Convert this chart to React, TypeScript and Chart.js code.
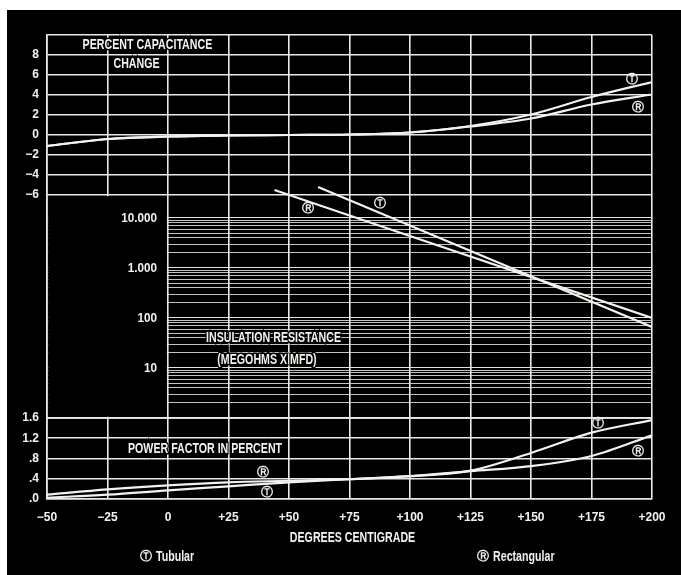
import React, { useEffect, useRef } from 'react';
import { Chart, registerables } from 'chart.js';
Chart.register(...registerables);

// ---- data ----
const temps = [-50, -25, 0, 25, 50, 75, 100, 125, 150, 175, 200];
const capTubular = [-1.1, -0.4, -0.15, -0.05, 0, 0.05, 0.25, 0.9, 2.05, 3.8, 5.3];
const capRect = [-1.1, -0.4, -0.15, -0.05, 0, 0.05, 0.25, 0.85, 1.65, 3.05, 4.05];

const irTempsTubular = [62, 200];
const irTubular = [41700, 66];
const irTempsRect = [44, 200];
const irRect = [36300, 100];

const pfTubular = [0.025, 0.085, 0.17, 0.25, 0.33, 0.39, 0.45, 0.56, 0.91, 1.31, 1.56];
const pfRect = [0.085, 0.19, 0.27, 0.33, 0.36, 0.39, 0.45, 0.55, 0.65, 0.85, 1.26];

const pfTickLabels = ['.0', '.4', '.8', '1.2', '1.6'];
const irLabelValues = [10000, 1000, 100, 10];
const irLabels = ['10.000', '1.000', '100', '10'];
const irDecades = [1, 10, 100, 1000];
const irSignificands = [1, 2, 3, 4, 5, 6, 7, 8, 9];
const irTop = 10000;

const legendSymbols = ['\u24C9', '\u24C7'];
const legendNames = ['Tubular', 'Rectangular'];
const xTitle = 'DEGREES CENTIGRADE';

const FONT = '"Liberation Sans", Arial, sans-serif';
const SYM_FONT = '"DejaVu Sans", sans-serif';
const WHITE = '#f2f2ee';
const GRID = '#e9e9e6';
const SQUEEZE = 0.76;

function fmtTemp(v: number) {
  if (v > 0) return '+' + v;
  if (v < 0) return '\u2212' + -v;
  return '0';
}

function condText(ctx: CanvasRenderingContext2D, t: string, x: number, y: number, sx: number, stroke = false) {
  ctx.save();
  ctx.translate(x, y);
  ctx.scale(sx, 1);
  if (stroke) ctx.strokeText(t, 0, 0);
  ctx.fillText(t, 0, 0);
  ctx.restore();
}

const overlay = {
  id: 'overlay',
  beforeDatasetsDraw(chart: any) {
    const { ctx, scales } = chart;
    const x = scales.x, yMid = scales.yMid, yTop = scales.yTop, yBot = scales.yBot;
    ctx.save();
    // blank area left of 0 deg in the resistance panel
    const x0 = x.getPixelForValue(-50) + 1.2;
    const x1 = x.getPixelForValue(0) - 1.2;
    ctx.fillStyle = '#000';
    ctx.fillRect(x0, yMid.top + 1.2, x1 - x0, yMid.bottom - yMid.top - 2.4);

    ctx.fillStyle = WHITE;
    ctx.textBaseline = 'middle';
    ctx.textAlign = 'right';
    ctx.font = `bold 13px ${FONT}`;
    irLabelValues.forEach((v, i) => {
      condText(ctx, irLabels[i], x.getPixelForValue(0) - 11, yMid.getPixelForValue(v), 0.9);
    });

    // panel titles
    const titles: [string, number, any, number][] = [
      ['PERCENT CAPACITANCE', -8.5, yTop, 9.0],
      ['CHANGE', -13, yTop, 7.1],
      ['INSULATION RESISTANCE', 43.6, yMid, 40],
      ['(MEGOHMS X MFD)', 40.9, yMid, 14.5],
      ['POWER FACTOR IN PERCENT', 15.3, yBot, 0.99],
    ];
    ctx.textAlign = 'center';
    ctx.font = `bold 14px ${FONT}`;
    ctx.lineWidth = 3;
    ctx.strokeStyle = '#000';
    titles.forEach(([t, tx, sc, ty]) => {
      condText(ctx, t, x.getPixelForValue(tx), sc.getPixelForValue(ty), SQUEEZE, true);
    });
    ctx.restore();
  },
  afterDatasetsDraw(chart: any) {
    const { ctx, scales } = chart;
    const x = scales.x, yMid = scales.yMid, yTop = scales.yTop, yBot = scales.yBot;
    ctx.save();
    ctx.fillStyle = WHITE;
    ctx.textAlign = 'center';
    ctx.textBaseline = 'middle';
    ctx.font = `bold 12px ${SYM_FONT}`;
    const marks: [string, number, any, number][] = [
      ['\u24C9', 191.7, yTop, 5.5],
      ['\u24C7', 194.2, yTop, 2.7],
      ['\u24C7', 57.9, yMid, 15100],
      ['\u24C9', 87.6, yMid, 19000],
      ['\u24C7', 39.3, yBot, 0.51],
      ['\u24C9', 40.9, yBot, 0.12],
      ['\u24C9', 177.7, yBot, 1.48],
      ['\u24C7', 194.2, yBot, 0.93],
    ];
    marks.forEach(([t, tx, sc, ty]) => {
      ctx.fillText(t, x.getPixelForValue(tx), sc.getPixelForValue(ty));
    });

    // x axis title
    ctx.font = `bold 14px ${FONT}`;
    condText(ctx, xTitle, (x.left + x.right) / 2 + 3, x.top + 39, SQUEEZE);

    // legend
    const ly = chart.height - 18;
    const lx = [x.getPixelForValue(-11.6), x.getPixelForValue(127.7)];
    legendNames.forEach((name, i) => {
      ctx.textAlign = 'left';
      ctx.font = `bold 12px ${SYM_FONT}`;
      ctx.fillText(legendSymbols[i], lx[i], ly);
      ctx.font = `bold 14px ${FONT}`;
      condText(ctx, name, lx[i] + 16, ly, SQUEEZE);
    });
    ctx.restore();
  },
};

export default function App() {
  const ref = useRef<HTMLCanvasElement>(null);
  useEffect(() => {
    const canvas = ref.current!;
    const line = (data: any[], axis: string, clip?: any) => ({
      data,
      yAxisID: axis,
      xAxisID: 'x',
      borderColor: WHITE,
      borderWidth: 2.2,
      pointRadius: 0,
      fill: false,
      cubicInterpolationMode: 'monotone' as const,
      ...(clip ? { clip } : {}),
    });
    const midClip = { left: 0, top: 14, right: 0, bottom: 0 };
    const tickFont = { family: FONT, size: 12, weight: 'bold' };
    const chart = new Chart(canvas, {
      type: 'line',
      data: {
        datasets: [
          line(temps.map((t, i) => ({ x: t, y: capTubular[i] })), 'yTop'),
          line(temps.map((t, i) => ({ x: t, y: capRect[i] })), 'yTop'),
          line(irTempsTubular.map((t, i) => ({ x: t, y: irTubular[i] })), 'yMid', midClip),
          line(irTempsRect.map((t, i) => ({ x: t, y: irRect[i] })), 'yMid', midClip),
          line(temps.map((t, i) => ({ x: t, y: pfTubular[i] })), 'yBot'),
          line(temps.map((t, i) => ({ x: t, y: pfRect[i] })), 'yBot'),
        ],
      },
      options: {
        responsive: false,
        animation: false,
        layout: { padding: { left: 7, top: 25, right: 29, bottom: 0 } },
        plugins: { legend: { display: false }, tooltip: { enabled: false } },
        scales: {
          x: {
            type: 'linear',
            position: 'bottom',
            min: -50,
            max: 200,
            ticks: {
              stepSize: 25,
              color: WHITE,
              padding: 11,
              autoSkip: false,
              maxRotation: 0,
              font: tickFont,
              callback: (v: any) => fmtTemp(Number(v)),
            },
            grid: { color: GRID, lineWidth: 1.6, drawTicks: false },
            border: { display: true, color: GRID, width: 1.6 },
            afterFit: (s: any) => { s.height = 76; },
          },
          yTop: {
            type: 'linear',
            position: 'left',
            stack: 'panels',
            stackWeight: 160,
            weight: 3,
            min: -6,
            max: 10,
            ticks: {
              stepSize: 2,
              color: WHITE,
              padding: 8,
              autoSkip: false,
              font: tickFont,
              callback: (v: any) => (Number(v) === 10 ? '' : fmtTemp(Number(v)).replace('+', '')),
            },
            grid: { color: GRID, lineWidth: 1.6, drawTicks: false },
            border: { display: true, color: GRID, width: 1.6 },
            afterFit: (s: any) => { s.width = 33; },
          },
          yMid: {
            type: 'logarithmic',
            position: 'left',
            stack: 'panels',
            stackWeight: 223,
            weight: 2,
            min: 1,
            max: 28840,
            ticks: { display: false },
            grid: {
              color: (c: any) => (c.tick && irLabelValues.includes(c.tick.value) ? '#e4e4e0' : 'rgba(228,228,224,0.85)'),
              lineWidth: 1,
              drawTicks: false,
            },
            border: { display: true, color: GRID, width: 1.6 },
            afterBuildTicks: (s: any) => {
              const t: any[] = [];
              irDecades.forEach((d) => irSignificands.forEach((m) => t.push({ value: d * m })));
              t.push({ value: irTop });
              s.ticks = t;
            },
            afterFit: (s: any) => { s.width = 33; },
          },
          yBot: {
            type: 'linear',
            position: 'left',
            stack: 'panels',
            stackWeight: 81,
            weight: 1,
            min: 0,
            max: 1.6,
            ticks: {
              stepSize: 0.4,
              color: WHITE,
              padding: 8,
              autoSkip: false,
              font: tickFont,
              callback: (_v: any, i: number) => pfTickLabels[i],
            },
            grid: { color: GRID, lineWidth: 1.6, drawTicks: false },
            border: { display: true, color: GRID, width: 1.6 },
            afterFit: (s: any) => { s.width = 33; },
          },
        },
      } as any,
      plugins: [overlay],
    });
    return () => chart.destroy();
  }, []);

  return (
    <div style={{ position: 'absolute', left: 7, top: 10, width: 674, height: 565, background: '#000' }}>
      <canvas ref={ref} width={674} height={565} style={{ display: 'block' }} />
    </div>
  );
}
